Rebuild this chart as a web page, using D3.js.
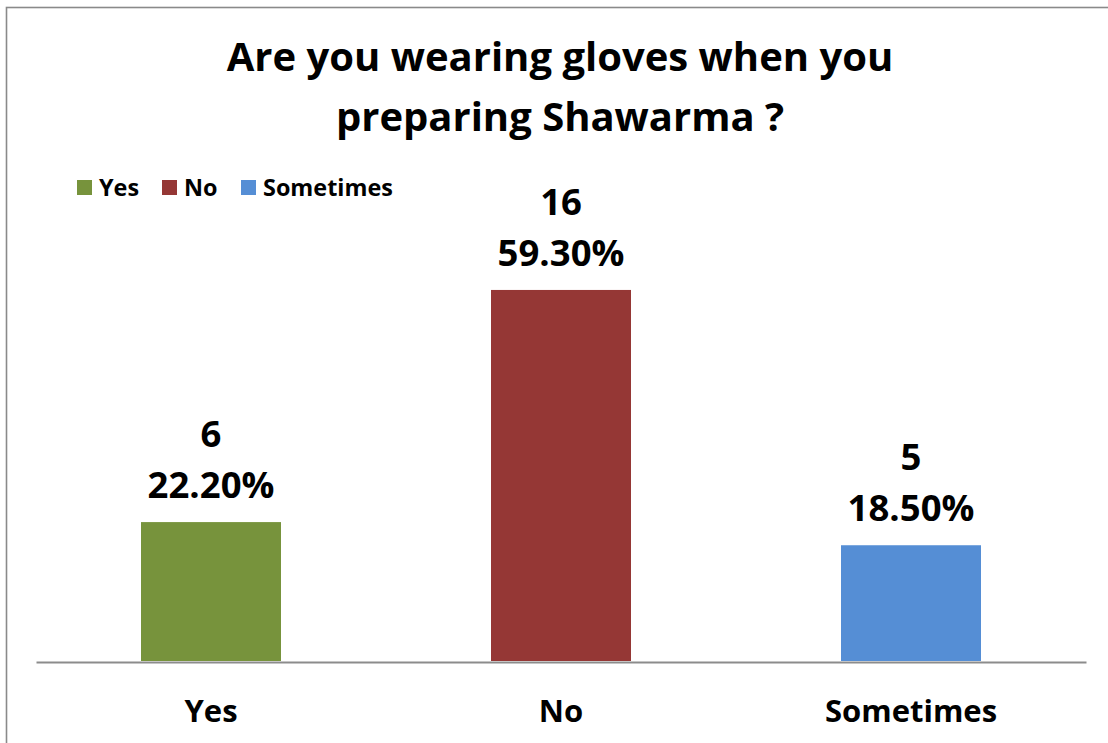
<!DOCTYPE html>
<html>
<head>
<meta charset="utf-8">
<script src="https://cdn.jsdelivr.net/npm/d3@7"></script>
<style>
  html, body { margin: 0; padding: 0; background: #ffffff; }
  svg { display: block; }
  text { font-family: "Open Sans", Lato, "DejaVu Sans", sans-serif; font-weight: bold; fill: #000; }
</style>
</head>
<body>
<svg id="chart" width="1108" height="743"></svg>
<script>
// Survey answers
const categories = ["Yes", "No", "Sometimes"];
const counts = [6, 16, 5];
const percents = [22.2, 59.3, 18.5];
const percentLabels = ["22.20%", "59.30%", "18.50%"];
const colors = ["#77933C", "#953735", "#558ED5"];
const titleLines = ["Are you wearing gloves when you", "preparing Shawarma ?"];

const svg = d3.select("#chart");
const W = 1108, H = 743;

svg.append("rect").attr("width", W).attr("height", H).attr("fill", "#fff");

// chart frame (runs off the right and bottom edges)
svg.append("rect")
  .attr("x", 6.5).attr("y", 7.5)
  .attr("width", W + 10).attr("height", H + 10)
  .attr("fill", "none")
  .attr("stroke", "#8a8a8a")
  .attr("stroke-width", 1.6);

const plot = { left: 36, right: 1086, top: 223, bottom: 661 };

const x = d3.scaleBand()
  .domain(categories)
  .range([plot.left, plot.right])
  .paddingInner(0)
  .paddingOuter(0);

const y = d3.scaleLinear()
  .domain([0, 70])
  .range([plot.bottom, plot.top]);

const barW = x.bandwidth() * 0.4;

// title
const title = svg.append("text")
  .attr("text-anchor", "middle")
  .style("font-size", "40px");
titleLines.forEach((line, i) => {
  title.append("tspan")
    .attr("x", 560)
    .attr("y", 71 + i * 60)
    .text(line);
});

// legend
const legendX = [77, 162, 241];
const legend = svg.append("g");
categories.forEach((c, i) => {
  legend.append("rect")
    .attr("x", legendX[i]).attr("y", 180)
    .attr("width", 15).attr("height", 15)
    .attr("fill", colors[i]);
  legend.append("text")
    .attr("x", legendX[i] + 22).attr("y", 196)
    .style("font-size", "23.4px")
    .text(c);
});

// bars
svg.append("g").selectAll("rect")
  .data(categories)
  .join("rect")
  .attr("x", (d) => x(d) + (x.bandwidth() - barW) / 2)
  .attr("y", (d, i) => y(percents[i]))
  .attr("width", barW)
  .attr("height", (d, i) => y(0) - y(percents[i]))
  .attr("fill", (d, i) => colors[i]);

// value labels: count above percentage
const labels = svg.append("g");
categories.forEach((c, i) => {
  const cx = x(c) + x.bandwidth() / 2;
  const top = y(percents[i]);
  labels.append("text")
    .attr("x", cx).attr("y", top - 75)
    .attr("text-anchor", "middle")
    .style("font-size", "36.5px")
    .text(counts[i]);
  labels.append("text")
    .attr("x", cx).attr("y", top - 24)
    .attr("text-anchor", "middle")
    .style("font-size", "36.5px")
    .text(percentLabels[i]);
});

// category axis
const axis = svg.append("g")
  .attr("transform", `translate(0,${plot.bottom + 1})`)
  .call(d3.axisBottom(x).tickSize(0).tickPadding(0));
axis.select(".domain")
  .attr("stroke", "#8c8c8c")
  .attr("stroke-width", 2);
axis.selectAll(".tick text")
  .attr("y", 60)
  .attr("dy", 0)
  .style("font-size", "31px")
  .style("font-family", "'Open Sans', Lato, sans-serif")
  .style("font-weight", "bold")
  .attr("fill", "#000");
</script>
</body>
</html>
